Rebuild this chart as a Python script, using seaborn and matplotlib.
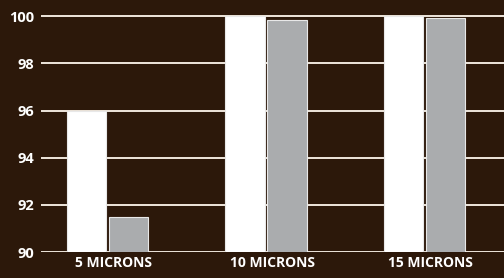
import pandas as pd
import matplotlib.pyplot as plt
import matplotlib.transforms as mtransforms
import seaborn as sns

categories = ["5 MICRONS", "10 MICRONS", "15 MICRONS"]
series_a = [96.0, 100.0, 100.0]
series_b = [91.5, 99.85, 99.93]
y_ticks = [90, 92, 94, 96, 98, 100]

data = pd.DataFrame({
    "size": categories * 2,
    "value": series_a + series_b,
    "series": ["A"] * 3 + ["B"] * 3,
})

sns.set_theme(style="dark")
plt.rcParams["font.family"] = ["Open Sans", "DejaVu Sans"]

bg = "#2c180a"
fig = plt.figure(figsize=(5.04, 2.78), dpi=100, facecolor=bg)
ax = fig.add_axes([41 / 504, 26 / 278, 1 - 41 / 504, 237 / 278])
ax.set_facecolor(bg)

for t in y_ticks:
    ax.axhline(t, color="#efe6dc", lw=1.4, zorder=0)

sns.barplot(data=data, x="size", y="value", hue="series",
            palette=["#ffffff", "#a9acaf"], width=0.53, gap=0.06,
            edgecolor="#e8e8e8", linewidth=0.8, legend=False, ax=ax,
            zorder=2)

ax.set_ylim(90, 100.05)
ax.set_xlim(-0.42, 2.5)
ax.set_yticks(y_ticks)
ax.set_yticklabels([str(t) for t in y_ticks], color="white",
                   fontweight="bold", fontsize=10.5)
ax.set_xticks(range(len(categories)))
ax.set_xticklabels(categories, color="white", fontweight="bold", fontsize=10)
ax.tick_params(axis="y", length=0, pad=5)
ax.tick_params(axis="x", length=0, pad=3)

# category labels sit a little right of the bar pairs
shift = mtransforms.ScaledTranslation(6 / 100, 0, fig.dpi_scale_trans)
for lbl in ax.get_xticklabels():
    lbl.set_transform(lbl.get_transform() + shift)

ax.set_xlabel("")
ax.set_ylabel("")
for s in ax.spines.values():
    s.set_visible(False)
ax.grid(False)

fig.savefig("out.png", dpi=100, facecolor=bg)
